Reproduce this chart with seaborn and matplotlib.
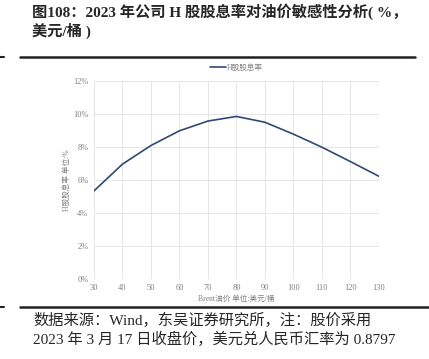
import matplotlib
matplotlib.use('Agg')
import matplotlib.pyplot as plt
import seaborn as sns
import pandas as pd
from matplotlib.ticker import FuncFormatter

# data
oil_price = [30, 40, 50, 60, 70, 80, 90, 100, 110, 120, 130]
div_yield = [5.33, 6.95, 8.08, 8.97, 9.56, 9.84, 9.49, 8.77, 7.98, 7.11, 6.22]
series_name = 'H股股息率'
x_title = 'Brent油价 单位:美元/桶'
y_title = 'H股股息率 单位:%'
title_lines = ['图108：2023 年公司 H 股股息率对油价敏感性分析( %，', '美元/桶 )']
note_lines = ['数据来源：Wind，东吴证券研究所，注：股价采用',
              '2023 年 3 月 17 日收盘价，美元兑人民币汇率为 0.8797']

sns.set_style('white')
FONTS = ['Liberation Serif', 'Noto Sans CJK SC', 'DejaVu Sans']
plt.rcParams['font.family'] = FONTS

df = pd.DataFrame({'oil': oil_price, 'yield': div_yield, 'series': series_name})

fig = plt.figure(figsize=(4.29, 3.59), dpi=100)
ax = fig.add_axes([0.219, 0.223, 0.664, 0.552])

sns.lineplot(data=df, x='oil', y='yield', hue='series', palette=['#2E4A74'],
             linewidth=1.2, ax=ax)

ax.set_xlim(30, 130)
ax.set_ylim(0, 12)
ax.set_xticks(oil_price)
ax.set_yticks(range(0, 13, 2))
ax.yaxis.set_major_formatter(FuncFormatter(lambda v, p: f'{v:.0f}%'))
ax.tick_params(axis='both', labelsize=6, colors='#808080', length=0, pad=4)
ax.grid(True, color='#E6E6E6', linewidth=0.7)
for s in ax.spines.values():
    s.set_visible(False)

ax.set_xlabel(x_title, fontsize=5.5, color='#808080', labelpad=2)
ax.set_ylabel(y_title, fontsize=5.5, color='#808080', labelpad=0)
ax.yaxis.set_label_coords(-0.08, 0.5)

leg = ax.legend(loc='lower center', bbox_to_anchor=(0.5, 1.01), frameon=False,
                fontsize=5.5, handlelength=2.2, handletextpad=0.1)
for t in leg.get_texts():
    t.set_color('#808080')

# title block
fig.text(32 / 429, 1 - 12 / 359, title_lines[0], fontsize=11, fontweight='bold',
         va='center', ha='left')
fig.text(32 / 429, 1 - 31 / 359, title_lines[1], fontsize=11, fontweight='bold',
         va='center', ha='left')

# horizontal rules
fig.add_artist(plt.Line2D([20 / 429, 415 / 429], [1 - 57 / 359] * 2, color='#222222', lw=1.8))
fig.add_artist(plt.Line2D([0, 4 / 429], [1 - 57 / 359] * 2, color='#222222', lw=1.5))
fig.add_artist(plt.Line2D([20 / 429, 1], [1 - 307 / 359] * 2, color='#222222', lw=1.8))
fig.add_artist(plt.Line2D([0, 4 / 429], [1 - 307 / 359] * 2, color='#222222', lw=1.5))

# source note
fig.text(33 / 429, 1 - 320 / 359, note_lines[0], fontsize=11, va='center', ha='left')
fig.text(33 / 429, 1 - 339 / 359, note_lines[1], fontsize=11, va='center', ha='left')

fig.savefig('out.png', dpi=100)
